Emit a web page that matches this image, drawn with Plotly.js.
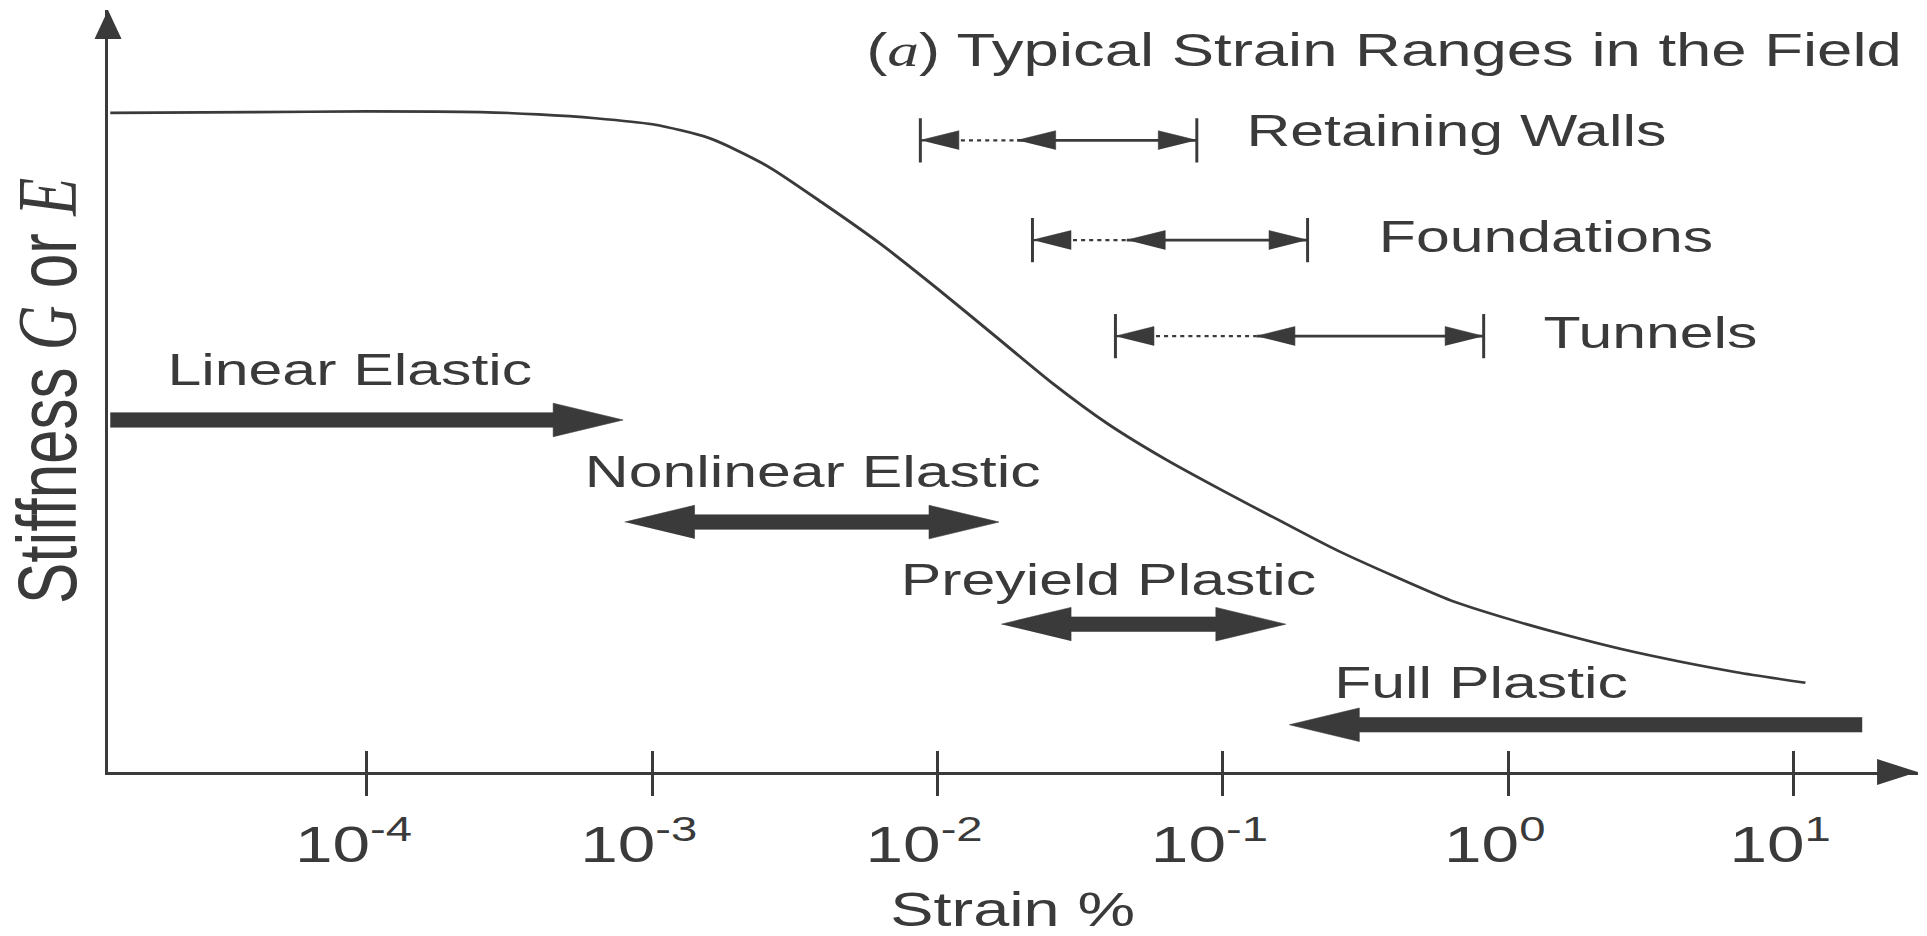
<!DOCTYPE html>
<html>
<head>
<meta charset="utf-8">
<script src="https://cdn.plot.ly/plotly-3.0.1.min.js"></script>
<style>
html,body{margin:0;padding:0;background:#ffffff;overflow:hidden;width:1927px;height:936px}
#chart{width:1427px;height:936px;transform:scaleX(1.35039);transform-origin:0 0}
</style>
</head>
<body>
<div id="chart"></div>
<script>
// ---------------- data ----------------
// stiffness–strain curve (strain in %, stiffness in relative units)
const curveStrain = [1.26e-5, 3.98e-5, 1e-4, 2.51e-4, 3.98e-4, 6.31e-4, 1.0e-3, 1.58e-3, 2.51e-3, 3.98e-3,
                     6.31e-3, 1.0e-2, 1.58e-2, 2.51e-2, 3.98e-2, 6.31e-2, 0.1, 0.158, 0.251, 0.398,
                     0.631, 1.0, 1.58, 2.51, 3.98, 6.31, 11.0];
const curveStiffness = [86.5, 86.6, 86.7, 86.6, 86.3, 85.8, 85.0, 83.2, 79.6, 74.6,
                        69.3, 63.4, 57.3, 51.1, 45.6, 41.0, 36.9, 33.0, 29.1, 25.7,
                        22.5, 20.1, 18.0, 16.1, 14.5, 13.1, 11.7];

// x-axis ticks
const tickValues = [1e-4, 1e-3, 1e-2, 1e-1, 1, 10];
const tickLabels = ['10<sup>-4</sup>', '10<sup>-3</sup>', '10<sup>-2</sup>', '10<sup>-1</sup>', '10<sup>0</sup>', '10<sup>1</sup>'];

// material behaviour ranges (thick arrows)
const behaviourNames  = ['Linear Elastic', 'Nonlinear Elastic', 'Preyield Plastic', 'Full Plastic'];
const behaviourFrom   = [1.26e-5, 8.0e-4, 0.0167, 17.4];
const behaviourTo     = [7.9e-4, 0.0164, 0.166, 0.171];
const behaviourLevel  = [46.2, 32.8, 19.4, 6.2];
const behaviourDouble = [false, true, true, false];

// typical strain ranges in the field
const fieldNames   = ['Retaining Walls', 'Foundations', 'Tunnels'];
const fieldMin     = [0.0087, 0.0215, 0.042];
const fieldTypical = [0.019, 0.046, 0.131];
const fieldMax     = [0.081, 0.198, 0.82];
const fieldLevel   = [82.9, 69.8, 57.2];

// ---------------- style / layout constants ----------------
const INK = '#3a3a3a';
const FONT = 'Liberation Sans, Arial, Helvetica, sans-serif';
const SERIF_I = 'font-family:Liberation Serif,Times New Roman,serif;font-style:italic';
const X_RANGE = [-4.9075, 1.4345];
const Y_RANGE = [0, 100];
const BIG = {head: 0.245, half: 2.2, shaft: 0.95};
const SMALL = {head: 0.135, half: 1.25, bar: 2.9};
// label anchor positions (log10 strain, stiffness units)
const behaviourLabelPos = [[-4.7075, 52.8], [-3.247, 39.5], [-2.140, 25.2], [-0.620, 11.7]];
const fieldLabelPos = [[-0.928, 84.25], [-0.462, 70.3], [0.112, 57.7]];

const L = Math.log10, P = v => Math.pow(10, v);

function arrowPolygon(a, b, y, both, s) {
  const la = L(a), lb = L(b), d = Math.sign(lb - la);
  const bs = la + d * s.head, be = lb - d * s.head;
  let xs = [], ys = [];
  if (both) { xs.push(la, bs, bs); ys.push(y, y + s.half, y + s.shaft); }
  else { xs.push(la); ys.push(y + s.shaft); }
  xs.push(be, be, lb, be, be); ys.push(y + s.shaft, y + s.half, y, y - s.half, y - s.shaft);
  if (both) { xs.push(bs, bs); ys.push(y - s.shaft, y - s.half); }
  else { xs.push(la); ys.push(y - s.shaft); }
  return {x: xs.map(P), y: ys};
}
function headPolygon(tip, y, dir, s) {
  const lt = L(tip), lb = lt - dir * s.head;
  return {x: [lt, lb, lb].map(P), y: [y, y + s.half, y - s.half]};
}

const traces = [];
// curve
traces.push({x: curveStrain, y: curveStiffness, type: 'scatter', mode: 'lines',
  line: {color: INK, width: 2.6, shape: 'spline', smoothing: 0.7}, hoverinfo: 'skip'});

// thick behaviour arrows
behaviourNames.forEach((n, i) => {
  const p = arrowPolygon(behaviourFrom[i], behaviourTo[i], behaviourLevel[i], behaviourDouble[i], BIG);
  traces.push({x: p.x, y: p.y, type: 'scatter', mode: 'lines', fill: 'toself', fillcolor: INK,
    line: {color: INK, width: 0.5}, name: n, hoverinfo: 'skip'});
});

// field ranges
const barX = [], barY = [], dotX = [], dotY = [], solX = [], solY = [], hdX = [], hdY = [];
fieldNames.forEach((n, i) => {
  const y = fieldLevel[i];
  barX.push(fieldMin[i], fieldMin[i], null, fieldMax[i], fieldMax[i], null);
  barY.push(y - SMALL.bar, y + SMALL.bar, null, y - SMALL.bar, y + SMALL.bar, null);
  dotX.push(fieldMin[i], fieldTypical[i], null); dotY.push(y, y, null);
  solX.push(fieldTypical[i], fieldMax[i], null); solY.push(y, y, null);
  [[fieldMin[i], -1], [fieldTypical[i], -1], [fieldMax[i], 1]].forEach(([t, d]) => {
    const h = headPolygon(t, y, d, SMALL);
    hdX.push(...h.x, null); hdY.push(...h.y, null);
  });
});
traces.push({x: dotX, y: dotY, type: 'scatter', mode: 'lines', line: {color: INK, width: 2.2, dash: 'dot'}, hoverinfo: 'skip'});
traces.push({x: solX, y: solY, type: 'scatter', mode: 'lines', line: {color: INK, width: 2.8}, hoverinfo: 'skip'});
traces.push({x: barX, y: barY, type: 'scatter', mode: 'lines', line: {color: INK, width: 2.2}, hoverinfo: 'skip'});
traces.push({x: hdX, y: hdY, type: 'scatter', mode: 'lines', fill: 'toself', fillcolor: INK,
  line: {color: INK, width: 0.5}, hoverinfo: 'skip'});
// carrier for the inside-tick overlay axis
traces.push({x: [], y: [], xaxis: 'x2', type: 'scatter', mode: 'lines', hoverinfo: 'skip'});

const annotations = [];
behaviourNames.forEach((n, i) => annotations.push({text: n, x: behaviourLabelPos[i][0], y: behaviourLabelPos[i][1],
  xref: 'x', yref: 'y', xanchor: 'left', yanchor: 'middle', showarrow: false,
  font: {family: FONT, size: 45, color: INK}}));
fieldNames.forEach((n, i) => annotations.push({text: n, x: fieldLabelPos[i][0], y: fieldLabelPos[i][1],
  xref: 'x', yref: 'y', xanchor: 'left', yanchor: 'middle', showarrow: false,
  font: {family: FONT, size: 45, color: INK}}));

const layout = {
  width: 1427, height: 936,
  margin: {l: 80, r: 7, t: 10, b: 164},
  paper_bgcolor: '#ffffff', plot_bgcolor: '#ffffff',
  showlegend: false,
  font: {family: FONT, color: INK},
  title: {text: '(<span style="' + SERIF_I + '">a</span>) Typical Strain Ranges in the Field',
    font: {family: FONT, size: 47, color: INK},
    xref: 'container', x: 0.7182, xanchor: 'center', yref: 'container', y: 0.9466, yanchor: 'middle'},
  xaxis: {type: 'log', range: X_RANGE, tickvals: tickValues, ticktext: tickLabels,
    ticks: 'outside', ticklen: 21, tickwidth: 2.2, tickcolor: INK,
    showline: true, linewidth: 2.8, linecolor: INK, showgrid: false, zeroline: false,
    tickfont: {family: FONT, size: 50, color: INK}, ticklabelshift: -10, ticklabelstandoff: 6,
    automargin: false, fixedrange: true,
    title: {text: 'Strain %', font: {family: FONT, size: 48, color: INK}, standoff: 38}},
  xaxis2: {type: 'log', range: X_RANGE, overlaying: 'x', anchor: 'y', side: 'bottom',
    tickvals: tickValues, ticks: 'inside', ticklen: 21, tickwidth: 2.2, tickcolor: INK,
    showticklabels: false, showline: false, showgrid: false, zeroline: false, fixedrange: true},
  yaxis: {range: Y_RANGE, showline: true, linewidth: 2.2, linecolor: INK, ticks: '', showticklabels: false,
    showgrid: false, zeroline: false, automargin: false, fixedrange: true,
    title: {text: 'Stiffness <span style="' + SERIF_I + '">G</span> or <span style="' + SERIF_I + '">E</span>',
      font: {family: FONT, size: 62, color: INK}, standoff: 5}},
  shapes: [
    {type: 'path', xref: 'paper', yref: 'paper', xsizemode: 'pixel', ysizemode: 'pixel', xanchor: 0, yanchor: 1,
      path: 'M0,0L-10,-29L10,-29Z', fillcolor: INK, line: {width: 0}},
    {type: 'path', xref: 'paper', yref: 'paper', xsizemode: 'pixel', ysizemode: 'pixel', xanchor: 1, yanchor: 0,
      path: 'M0,0L-30,13L-30,-13Z', fillcolor: INK, line: {width: 0}}
  ],
  annotations: annotations
};

Plotly.newPlot('chart', traces, layout, {displayModeBar: false, responsive: false, staticPlot: true});
</script>
</body>
</html>
